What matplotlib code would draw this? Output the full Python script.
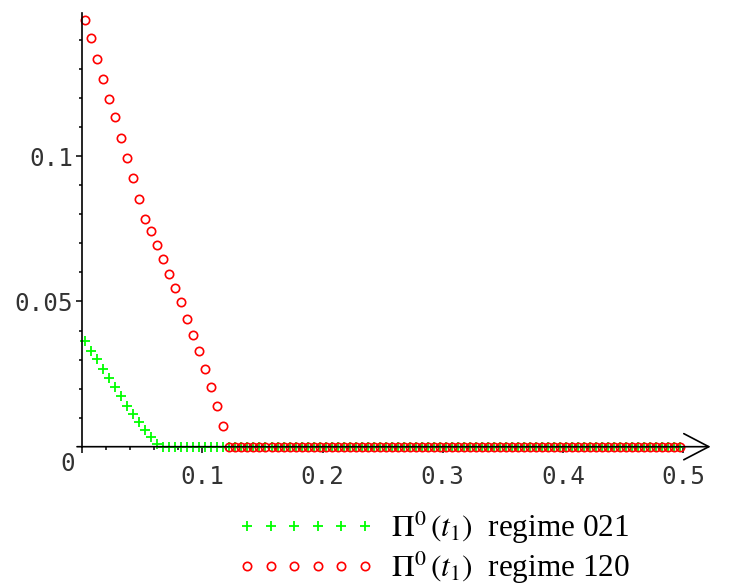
import matplotlib
matplotlib.use("Agg")
import matplotlib.pyplot as plt
from matplotlib.font_manager import FontProperties
import numpy as np

# sample points: x = 0.0025, 0.0075, ..., 0.4975
x = np.arange(0.0025, 0.5, 0.005)

# regime 021 (green crosses); zero afterwards
green_head = [0.0364, 0.0331, 0.0301, 0.0268, 0.0235, 0.0205, 0.0176,
              0.0141, 0.0113, 0.0086, 0.0058, 0.0034, 0.0008]
# regime 120 (red circles)
red_head = [0.1469, 0.1406, 0.1335, 0.1267, 0.1196, 0.1134, 0.1064, 0.0994,
            0.0924, 0.0853, 0.0784, 0.0744, 0.0695, 0.0645, 0.0595, 0.0548,
            0.0497, 0.0440, 0.0385, 0.0330, 0.0268, 0.0205, 0.0141, 0.0071]
y_green = np.array(green_head + [0.0] * (len(x) - len(green_head)))
y_red = np.array(red_head + [0.0] * (len(x) - len(red_head)))

labels = [r"$\Pi^0\,(t_{\mathit{1}})$  regime 021",
          r"$\Pi^0\,(t_{\mathit{1}})$  regime 120"]

x_major = [0, 0.1, 0.2, 0.3, 0.4, 0.5]
x_major_lbl = ["", "0.1", "0.2", "0.3", "0.4", "0.5"]
x_minor = [0.02, 0.04, 0.06, 0.08, 0.12, 0.14, 0.16, 0.18, 0.22, 0.24, 0.26,
           0.28, 0.32, 0.34, 0.36, 0.38, 0.42, 0.44, 0.46, 0.48]
y_major = [0.05, 0.1]
y_major_lbl = ["0.05", "0.1"]
y_minor = [0.01, 0.02, 0.03, 0.04, 0.06, 0.07, 0.08, 0.09, 0.11, 0.12, 0.13, 0.14]

plt.rcParams["mathtext.fontset"] = "stix"

W, H = 743, 588
fig = plt.figure(figsize=(W / 100, H / 100), dpi=100)
ax = fig.add_axes([77 / W, (H - 446.7) / H, (710.6 - 77) / W, (446.7 - 12.5) / H])
ax.set_xlim(-0.0044, 0.523)
ax.set_ylim(0, 0.1495)

g, = ax.plot(x, y_green, linestyle="none", marker="+", color="#00ff00",
             ms=7, mew=1.3, clip_on=False, zorder=3)
r, = ax.plot(x, y_red, linestyle="none", marker="o", mfc="none", mec="#ff0000",
             ms=6, mew=1.2, clip_on=False, zorder=4)

for s in ["top", "right", "bottom"]:
    ax.spines[s].set_visible(False)
ax.spines["left"].set_position(("data", 0))
ax.spines["left"].set_linewidth(1.2)
ax.spines["left"].set_zorder(5)

ax.annotate("", xy=(1, 0), xycoords="axes fraction", xytext=(0, 0),
            arrowprops=dict(arrowstyle="->,head_length=0.9,head_width=0.47",
                            lw=1.2, color="black", shrinkA=0, shrinkB=0,
                            mutation_scale=20),
            zorder=5, annotation_clip=False)

tick_font = dict(family="DejaVu Sans Mono", size=17.5)
ax.set_xticks(x_major, x_major_lbl)
ax.set_xticks(x_minor, minor=True)
ax.set_yticks(y_major, y_major_lbl)
ax.set_yticks(y_minor, minor=True)
ax.tick_params(axis="both", which="major", direction="out", length=4, width=1.1,
               colors="black", labelcolor="#333333")
ax.tick_params(axis="both", which="minor", direction="out", length=2.5, width=1.1)
ax.tick_params(axis="x", which="major", pad=9)
ax.tick_params(axis="y", which="major", pad=2.5)
for t in ax.get_xticklabels() + ax.get_yticklabels():
    t.set_fontfamily(tick_font["family"])
    t.set_fontsize(tick_font["size"])
ax.annotate("0", xy=(0, 0), xytext=(-5.5, -3.5), textcoords="offset points",
            ha="right", va="top", color="#333333", **tick_font)

leg_font = FontProperties(family="Liberation Serif", size=22.5)
fig.legend([g, r], labels, loc="upper left", bbox_to_anchor=(237.6 / W, 1 - 510 / H),
           numpoints=6, handlelength=4.376, handletextpad=0.53, frameon=False,
           prop=leg_font, borderpad=0, borderaxespad=0, labelspacing=0.1)

fig.savefig("out.png", dpi=100)
